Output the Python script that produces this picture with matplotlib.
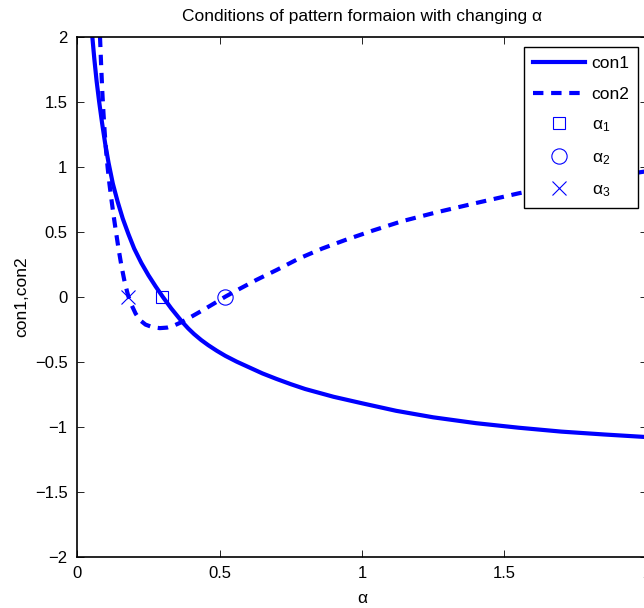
import matplotlib
matplotlib.use("Agg")
from matplotlib import pyplot as plt

plt.rcParams['font.family'] = ['Liberation Sans', 'DejaVu Sans']
plt.rcParams['mathtext.fontset'] = 'custom'
plt.rcParams['mathtext.rm'] = 'Liberation Sans'
plt.rcParams['mathtext.default'] = 'regular'

# values
con1_x = [0.053, 0.060, 0.068, 0.077, 0.087, 0.098, 0.110, 0.125, 0.142, 0.160,
          0.180, 0.200, 0.225, 0.250, 0.275, 0.300, 0.330, 0.367, 0.39, 0.41,
          0.435, 0.46, 0.49, 0.52, 0.56, 0.60, 0.65, 0.70, 0.75, 0.80,
          0.90, 1.00, 1.12, 1.25, 1.40, 1.55, 1.70, 1.85, 2.00]
con1_y = [2.0, 1.83, 1.66, 1.50, 1.34, 1.18, 1.03, 0.87, 0.73, 0.60,
          0.48, 0.37, 0.26, 0.165, 0.08, 0.0, -0.09, -0.19, -0.245, -0.287,
          -0.333, -0.373, -0.416, -0.455, -0.50, -0.54, -0.59, -0.633, -0.673, -0.71,
          -0.77, -0.82, -0.878, -0.928, -0.973, -1.008, -1.038, -1.06, -1.08]

con2_x = [0.080, 0.084, 0.088, 0.092, 0.096, 0.101, 0.107, 0.113, 0.120, 0.128,
          0.136, 0.145, 0.155, 0.165, 0.175, 0.180, 0.190, 0.205, 0.220, 0.240,
          0.265, 0.29, 0.315, 0.34, 0.367, 0.40, 0.44, 0.48, 0.52, 0.57,
          0.63, 0.70, 0.78, 0.86, 0.94, 1.04, 1.14, 1.26, 1.40, 1.55,
          1.70, 1.85, 2.00]
con2_y = [2.0, 1.78, 1.58, 1.42, 1.28, 1.13, 0.99, 0.87, 0.75, 0.62,
          0.50, 0.37, 0.24, 0.13, 0.04, 0.0, -0.06, -0.13, -0.18, -0.215,
          -0.235, -0.242, -0.238, -0.222, -0.195, -0.155, -0.105, -0.053, 0.0, 0.06,
          0.13, 0.205, 0.295, 0.37, 0.435, 0.51, 0.58, 0.648, 0.72, 0.795,
          0.86, 0.915, 0.965]

alpha_pts_x = [0.298, 0.52, 0.178]   # alpha_1, alpha_2, alpha_3
alpha_pts_y = [0.0, 0.0, 0.0]

xticks = [0, 0.5, 1, 1.5, 2]
yticks = [-2, -1.5, -1, -0.5, 0, 0.5, 1, 1.5, 2]

fig = plt.figure(figsize=(6.44, 6.08), dpi=100)
ax = fig.add_axes([0.1199, 0.0844, 0.8845, 0.8553])

ax.plot(con1_x, con1_y, color='b', lw=3.0, label='con1', solid_joinstyle='round')
ax.plot(con2_x, con2_y, color='b', lw=3.0, linestyle=(0, (2.5, 1.85)), label='con2')
ax.plot(alpha_pts_x[0], alpha_pts_y[0], 's', mfc='none', mec='b', mew=0.8, ms=9,
        label=r'$\alpha_1$')
ax.plot(alpha_pts_x[1], alpha_pts_y[1], 'o', mfc='none', mec='b', mew=0.8, ms=11,
        label=r'$\alpha_2$')
ax.plot(alpha_pts_x[2], alpha_pts_y[2], 'x', mec='b', mew=0.8, ms=10,
        label=r'$\alpha_3$')

ax.set_xlim(0, 2)
ax.set_ylim(-2, 2)
ax.set_xticks(xticks)
ax.set_yticks(yticks)
ax.set_xticklabels(['0', '0.5', '1', '1.5', '2'])
ax.set_yticklabels(['\u22122', '\u22121.5', '\u22121', '\u22120.5', '0', '0.5', '1', '1.5', '2'])
ax.tick_params(direction='in', length=5, width=0.6, top=True, right=True,
               labelsize=12, pad=7)
for sp in ax.spines.values():
    sp.set_linewidth(1.2)

ax.set_title('Conditions of pattern formaion with changing \u03b1', fontsize=12.5, pad=11)
ax.set_xlabel('\u03b1', fontsize=12.5, labelpad=7)
ax.set_ylabel('con1,con2', fontsize=12.5)

leg = ax.legend(loc='upper right', bbox_to_anchor=(0.985, 0.98), borderaxespad=0,
                fontsize=12.5, handlelength=3.0, handletextpad=0.4, fancybox=False,
                framealpha=1, edgecolor='k', labelspacing=0.9, borderpad=0.5)
leg.get_frame().set_linewidth(1.0)

fig.savefig('out.png', dpi=100)
